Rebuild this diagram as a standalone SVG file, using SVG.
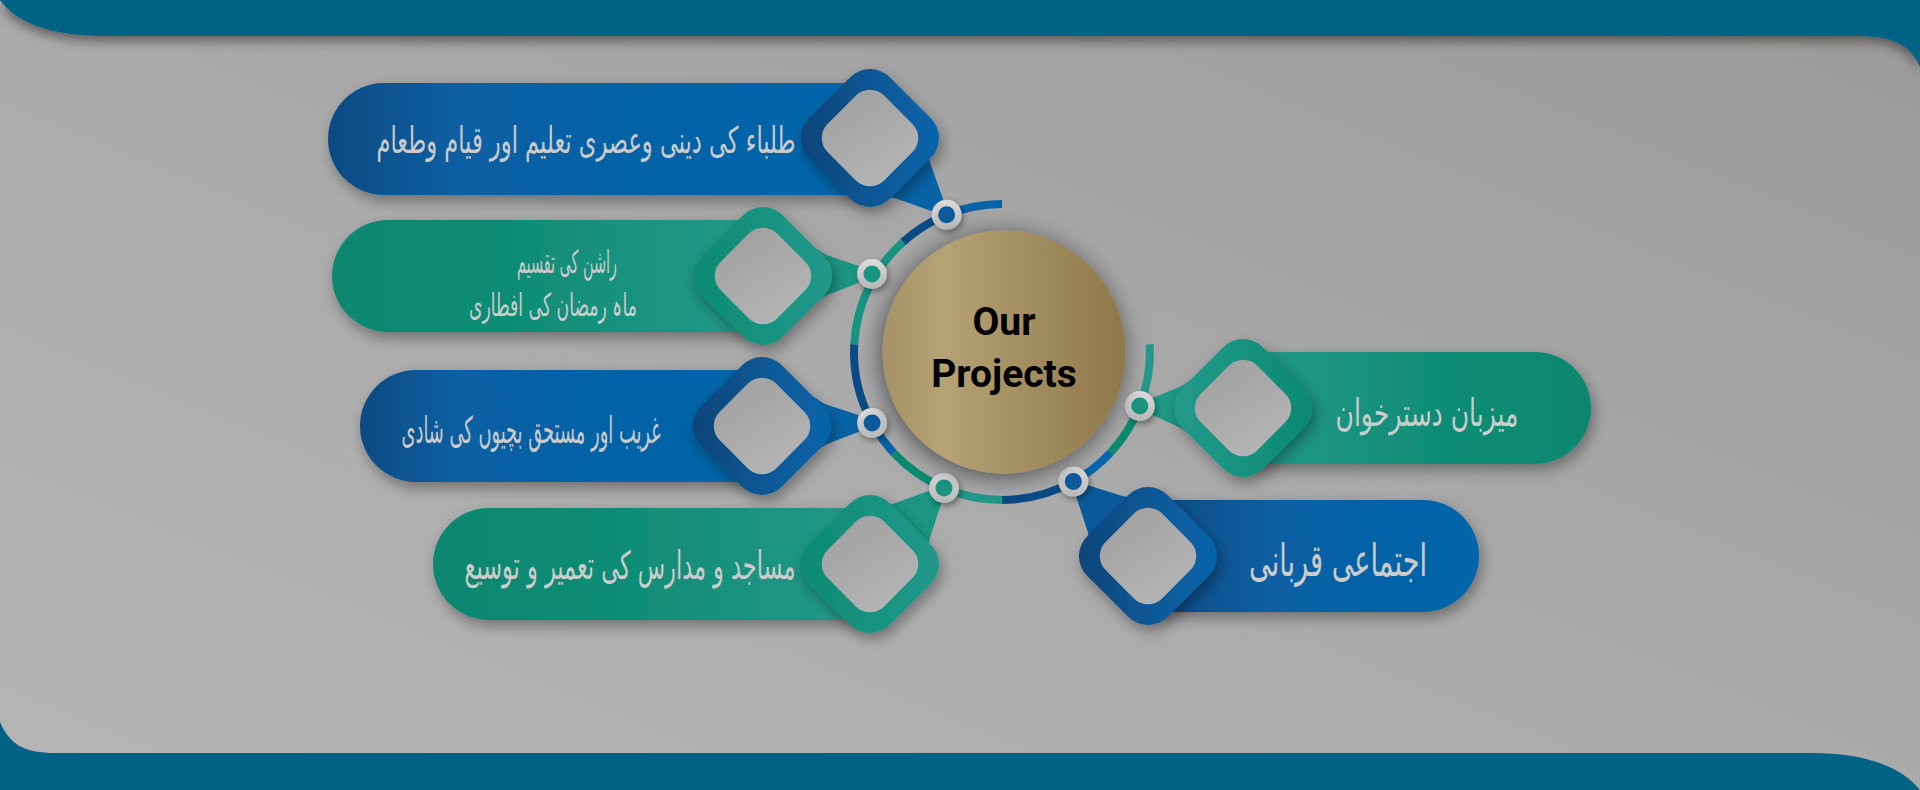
<svg xmlns="http://www.w3.org/2000/svg" xmlns:xlink="http://www.w3.org/1999/xlink" width="1920" height="790" viewBox="0 0 1920 790">
  <defs>
    <style>
      .ur { font-family: "DejaVu Sans", "Noto Sans", sans-serif; fill: #cbcbcb; text-anchor: middle; dominant-baseline: central; direction: rtl; }
      .title { font-family: Roboto, "Liberation Sans", sans-serif; font-weight: 700; font-size: 39px; fill: #000; text-anchor: middle; }
      .inner { fill: url(#gInner); }
      .ringT { fill: none; stroke-width: 8; }
      .dotO { fill: url(#gDot); filter: url(#dsSmall); }
    </style>
    <linearGradient id="gBg" x1="0" y1="1" x2="1" y2="0">
      <stop offset="0" stop-color="#b5b5b5"/>
      <stop offset="0.5" stop-color="#aaaaaa"/>
      <stop offset="1" stop-color="#9c9999"/>
    </linearGradient>
    <linearGradient id="gBlueL" x1="0" y1="0" x2="1" y2="0">
      <stop offset="0" stop-color="#0a4a82"/>
      <stop offset="0.25" stop-color="#0760a3"/>
      <stop offset="1" stop-color="#0566aa"/>
    </linearGradient>
    <linearGradient id="gBlueR" x1="0" y1="0" x2="1" y2="0">
      <stop offset="0" stop-color="#0a4a82"/>
      <stop offset="0.4" stop-color="#0760a3"/>
      <stop offset="1" stop-color="#0566aa"/>
    </linearGradient>
    <linearGradient id="gTealL" x1="0" y1="0" x2="1" y2="0">
      <stop offset="0" stop-color="#0a876f"/>
      <stop offset="0.4" stop-color="#0e8c74"/>
      <stop offset="1" stop-color="#24998a"/>
    </linearGradient>
    <linearGradient id="gTealR" x1="0" y1="0" x2="1" y2="0">
      <stop offset="0" stop-color="#24998a"/>
      <stop offset="0.6" stop-color="#0e8c74"/>
      <stop offset="1" stop-color="#0a876f"/>
    </linearGradient>
    <linearGradient id="gDBlue" x1="0" y1="0" x2="1" y2="0">
      <stop offset="0" stop-color="#0b4479"/>
      <stop offset="0.5" stop-color="#0a5794"/>
      <stop offset="1" stop-color="#0665ab"/>
    </linearGradient>
    <linearGradient id="gDTeal" x1="0" y1="0" x2="1" y2="0">
      <stop offset="0" stop-color="#0d8a72"/>
      <stop offset="0.5" stop-color="#169380"/>
      <stop offset="1" stop-color="#22988a"/>
    </linearGradient>
    <linearGradient id="gDTealR" x1="0" y1="0" x2="1" y2="0">
      <stop offset="0" stop-color="#24998a"/>
      <stop offset="0.5" stop-color="#169380"/>
      <stop offset="1" stop-color="#0b8870"/>
    </linearGradient>
    <linearGradient id="gInner" x1="0" y1="0" x2="0.6" y2="1">
      <stop offset="0" stop-color="#9e9e9e"/>
      <stop offset="1" stop-color="#b4b4b4"/>
    </linearGradient>
    <linearGradient id="gGold" x1="0" y1="0" x2="1" y2="0">
      <stop offset="0" stop-color="#a69266"/>
      <stop offset="0.25" stop-color="#b5a275"/>
      <stop offset="1" stop-color="#8e7749"/>
    </linearGradient>
    <linearGradient id="gDot" x1="0" y1="0" x2="0" y2="1">
      <stop offset="0" stop-color="#dcdcdc"/>
      <stop offset="1" stop-color="#b8b8b8"/>
    </linearGradient>
    <filter id="ds" x="-30%" y="-30%" width="160%" height="160%">
      <feDropShadow dx="3" dy="6" stdDeviation="7" flood-color="#000" flood-opacity="0.35"/>
    </filter>
    <filter id="dsSmall" x="-50%" y="-50%" width="200%" height="200%">
      <feDropShadow dx="2" dy="3" stdDeviation="3" flood-color="#000" flood-opacity="0.4"/>
    </filter>
    <filter id="dsBand" x="-5%" y="-50%" width="110%" height="250%">
      <feDropShadow dx="0" dy="5" stdDeviation="6" flood-color="#000" flood-opacity="0.45"/>
    </filter>
    <filter id="dsGold" x="-40%" y="-40%" width="180%" height="180%">
      <feDropShadow dx="-2" dy="4" stdDeviation="12" flood-color="#000" flood-opacity="0.55"/>
    </filter>
    <path id="dia" d="M19.8,-60.8 L60.8,-19.8 A28,28 0 0 1 60.8,19.8 L19.8,60.8 A28,28 0 0 1 -19.8,60.8 L-60.8,19.8 A28,28 0 0 1 -60.8,-19.8 L-19.8,-60.8 A28,28 0 0 1 19.8,-60.8 Z"/>
    <path id="diaIn" d="M14.1,-42.4 L42.4,-14.1 A20,20 0 0 1 42.4,14.1 L14.1,42.4 A20,20 0 0 1 -14.1,42.4 L-42.4,14.1 A20,20 0 0 1 -42.4,-14.1 L-14.1,-42.4 A20,20 0 0 1 14.1,-42.4 Z"/>
  </defs>

  <!-- background -->
  <rect x="0" y="0" width="1920" height="790" fill="url(#gBg)"/>
  <path id="topBand" d="M0,0 H1920 V67 C1910,45 1895,36 1856,36 H104 C50,36 15,22 0,0 Z" fill="#016285" filter="url(#dsBand)"/>
  <path id="bottomBand" d="M0,722 C10,745 25,753 55,753 H1812 C1862,753 1900,765 1920,790 H0 Z" fill="#016285"/>

  <!-- connectors: ring segments and tails -->
  <g id="connectors">
    <path class="ringT" stroke="#24998a" d="M1149.8,344.3 A148,148 0 0 1 1139.8,406"/>
    <path class="ringT" stroke="#0b8a70" d="M1139.8,406 A148,148 0 0 1 1110.2,452.9"/>
    <path class="ringT" stroke="#0766ad" d="M1110.2,452.9 A148,148 0 0 1 1073.3,481.6"/>
    <path class="ringT" stroke="#0a4b85" d="M1073.3,481.6 A148,148 0 0 1 1002,500"/>
    <path class="ringT" stroke="#22988a" d="M1002,500 A148,148 0 0 1 944,488"/>
    <path class="ringT" stroke="#0b8a70" d="M944,488 A148,148 0 0 1 893.8,452.9"/>
    <path class="ringT" stroke="#0762a6" d="M893.8,452.9 A148,148 0 0 1 872.1,422.9"/>
    <path class="ringT" stroke="#0a4b85" d="M872.1,422.9 A148,148 0 0 1 854.2,344.3"/>
    <path class="ringT" stroke="#179582" d="M854.2,344.3 A148,148 0 0 1 903,242"/>
    <path class="ringT" stroke="#0a4b85" d="M903,242 A148,148 0 0 1 946.6,214.8"/>
    <path class="ringT" stroke="#0763a7" d="M946.6,214.8 A148,148 0 0 1 1002,204"/>

    <path fill="#0763a6" transform="translate(870,138) rotate(45)" d="M50,-32 C56,-28 58,-26 62,-24 L99,-6.5 L99,6.5 L62,24 C58,26 56,28 50,32 Z"/>
    <path fill="#1b9582" transform="translate(763,276) rotate(-1)" d="M50,-29 C58,-24 60,-22 64,-20 L101,-6.5 L101,6.5 L64,20 C60,22 58,24 50,29 Z"/>
    <path fill="#0763a6" transform="translate(762,426) rotate(-1.6)" d="M50,-29 C58,-24 60,-22 64,-20 L102,-6.5 L102,6.5 L64,20 C60,22 58,24 50,29 Z"/>
    <path fill="#1b9582" transform="translate(870,564) rotate(-45.8)" d="M50,-32 C56,-28 58,-26 62,-24 L98,-6.5 L98,6.5 L62,24 C58,26 56,28 50,32 Z"/>
    <path fill="#1f9886" transform="translate(1243,408) rotate(181)" d="M50,-29 C58,-24 60,-22 64,-20 L95,-6.5 L95,6.5 L64,20 C60,22 58,24 50,29 Z"/>
    <path fill="#0a5a9a" transform="translate(1148,556) rotate(-135.4)" d="M50,-32 C56,-28 58,-26 62,-24 L96,-6.5 L96,6.5 L62,24 C58,26 56,28 50,32 Z"/>
  </g>

  <!-- node A -->
  <g id="node-a">
    <path d="M870,83 H384 A56,56 0 0 0 384,195 H870 Z" fill="url(#gBlueL)" filter="url(#ds)"/>
    <use href="#dia" x="870" y="138" fill="url(#gDBlue)" filter="url(#ds)"/>
    <use href="#diaIn" x="870" y="138" class="inner"/>
    <text class="ur" x="586" y="140" font-size="37" textLength="419" lengthAdjust="spacingAndGlyphs">طلباء کی دینی وعصری تعلیم اور قیام وطعام</text>
  </g>

  <!-- node B -->
  <g id="node-b">
    <path d="M763,220 H388 A56,56 0 0 0 388,332 H763 Z" fill="url(#gTealL)" filter="url(#ds)"/>
    <use href="#dia" x="763" y="276" fill="url(#gDTeal)" filter="url(#ds)"/>
    <use href="#diaIn" x="763" y="276" class="inner"/>
    <text class="ur" x="567" y="262" font-size="32" textLength="100" lengthAdjust="spacingAndGlyphs">راشن کی تقسیم</text>
    <text class="ur" x="553" y="305" font-size="32" textLength="168" lengthAdjust="spacingAndGlyphs">ماہ رمضان کی افطاری</text>
  </g>

  <!-- node C -->
  <g id="node-c">
    <path d="M762,370 H416 A56,56 0 0 0 416,482 H762 Z" fill="url(#gBlueL)" filter="url(#ds)"/>
    <use href="#dia" x="762" y="426" fill="url(#gDBlue)" filter="url(#ds)"/>
    <use href="#diaIn" x="762" y="426" class="inner"/>
    <text class="ur" x="531" y="430" font-size="37" textLength="259" lengthAdjust="spacingAndGlyphs">غریب اور مستحق بچیوں کی شادی</text>
  </g>

  <!-- node D -->
  <g id="node-d">
    <path d="M870,508 H489 A56,56 0 0 0 489,620 H870 Z" fill="url(#gTealL)" filter="url(#ds)"/>
    <use href="#dia" x="870" y="564" fill="url(#gDTeal)" filter="url(#ds)"/>
    <use href="#diaIn" x="870" y="564" class="inner"/>
    <text class="ur" x="630" y="565" font-size="39" textLength="331" lengthAdjust="spacingAndGlyphs">مساجد و مدارس کی تعمیر و توسیع</text>
  </g>

  <!-- node E -->
  <g id="node-e">
    <path d="M1243,352 H1535 A56,56 0 0 1 1535,464 H1243 Z" fill="url(#gTealR)" filter="url(#ds)"/>
    <use href="#dia" x="1243" y="408" fill="url(#gDTealR)" filter="url(#ds)"/>
    <use href="#diaIn" x="1243" y="408" class="inner"/>
    <text class="ur" x="1427" y="413" font-size="38" textLength="183" lengthAdjust="spacingAndGlyphs">میزبان دسترخوان</text>
  </g>

  <!-- node F -->
  <g id="node-f">
    <path d="M1148,500 H1423 A56,56 0 0 1 1423,612 H1148 Z" fill="url(#gBlueR)" filter="url(#ds)"/>
    <use href="#dia" x="1148" y="556" fill="url(#gDBlue)" filter="url(#ds)"/>
    <use href="#diaIn" x="1148" y="556" class="inner"/>
    <text class="ur" x="1338" y="560" font-size="45" textLength="178" lengthAdjust="spacingAndGlyphs">اجتماعی قربانی</text>
  </g>

  <!-- ring points -->
  <g id="ring-points">
    <circle class="dotO" cx="946.6" cy="214.8" r="15"/><circle cx="946.6" cy="214.8" r="8.5" fill="#0a5a9c"/>
    <circle class="dotO" cx="872" cy="274" r="15"/><circle cx="872" cy="274" r="8.5" fill="#1a9580"/>
    <circle class="dotO" cx="872.1" cy="422.9" r="15"/><circle cx="872.1" cy="422.9" r="8.5" fill="#0a5a9c"/>
    <circle class="dotO" cx="944" cy="488" r="15"/><circle cx="944" cy="488" r="8.5" fill="#1a9580"/>
    <circle class="dotO" cx="1073.3" cy="481.6" r="15"/><circle cx="1073.3" cy="481.6" r="8.5" fill="#0a5a9c"/>
    <circle class="dotO" cx="1139.8" cy="406" r="15"/><circle cx="1139.8" cy="406" r="8.5" fill="#1a9580"/>
  </g>

  <!-- center -->
  <g id="center">
    <circle cx="1004" cy="352" r="121.5" fill="url(#gGold)" filter="url(#dsGold)"/>
    <text class="title" x="1004" y="335">Our</text>
    <text class="title" x="1004" y="387">Projects</text>
  </g>
</svg>
